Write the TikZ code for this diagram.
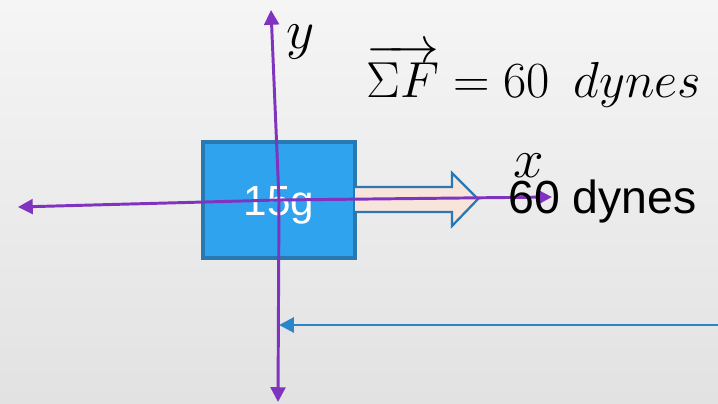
\RequirePackage{fix-cm}
\documentclass[tikz,border=0pt]{standalone}
\usepackage{amsmath}
\usepackage{fontspec}
\newfontfamily\arialfont{Liberation Sans}
\usetikzlibrary{arrows.meta, positioning}
\definecolor{sfondoalto}{HTML}{F5F5F5}
\definecolor{sfondobasso}{HTML}{E2E2E2}
\definecolor{massa}{HTML}{2FA3EE}
\definecolor{bordo}{HTML}{2A78B2}
\definecolor{assi}{HTML}{8033BE}
\definecolor{pesca}{HTML}{F7E4DA}
\definecolor{linea}{HTML}{2A86C8}
\tikzset{
  asse/.style={assi, line width=2.1pt, -{Triangle[length=10.5pt,width=10.5pt]}},
  blocco/.style={draw=bordo, line width=2.4pt, fill=massa, minimum width=152*0.025cm, minimum height=116*0.025cm, inner sep=0pt},
  etichetta/.style={inner sep=0pt, font=\fontsize{39}{44}\selectfont}
}

\begin{document}
\begin{tikzpicture}[x=0.025cm, y=-0.025cm]
    %sfondo
    \shade[top color=sfondoalto, bottom color=sfondobasso] (0,0) rectangle (718,403);
    \useasboundingbox (0,0) rectangle (718,403);

    %massa
    \node[blocco] (massa) at (279,200) {};
    \node[text=white, inner sep=0pt, font=\arialfont\fontsize{30}{36}\selectfont] (peso) at (279,205) {15g};

    %freccia della forza
    \draw[bordo, line width=1.6pt, fill=pesca] (355,187) -- (452,187) -- (452,173) -- (478,199)
        -- (452,226) -- (452,212) -- (355,212);

    %assi
    \coordinate (xsin) at (18,207);
    \coordinate (xdes) at (552,197);
    \coordinate (ysu) at (271,10);
    \coordinate (ygiu) at (278,402);
    \draw[asse] (massa.center) -- (xsin);
    \draw[asse] (massa.center) -- (xdes);
    \draw[asse] (massa.center) -- (ysu);
    \draw[asse] (massa.center) -- (ygiu);

    %etichette
    \node[etichetta] (labx) at (529,166) {$x$};
    \node[etichetta] (laby) at (301,42) {$y$};
    \node[inner sep=0pt, font=\arialfont\fontsize{33}{38}\selectfont, anchor=west] (forza) at (508,201) {60 dynes};
    \node[inner sep=0pt, font=\fontsize{36}{42}\selectfont, anchor=base west] (somma) at (366,97)
        {$\overrightarrow{\Sigma F} = 60\ \,dynes$};

    %linea blu
    \coordinate (lineafine) at (720,325);
    \coordinate (lineapunta) at (279,325);
    \draw[linea, line width=2.1pt, -{Triangle[length=10.5pt,width=10.5pt]}] (lineafine) -- (lineapunta);
\end{tikzpicture}
\end{document}
